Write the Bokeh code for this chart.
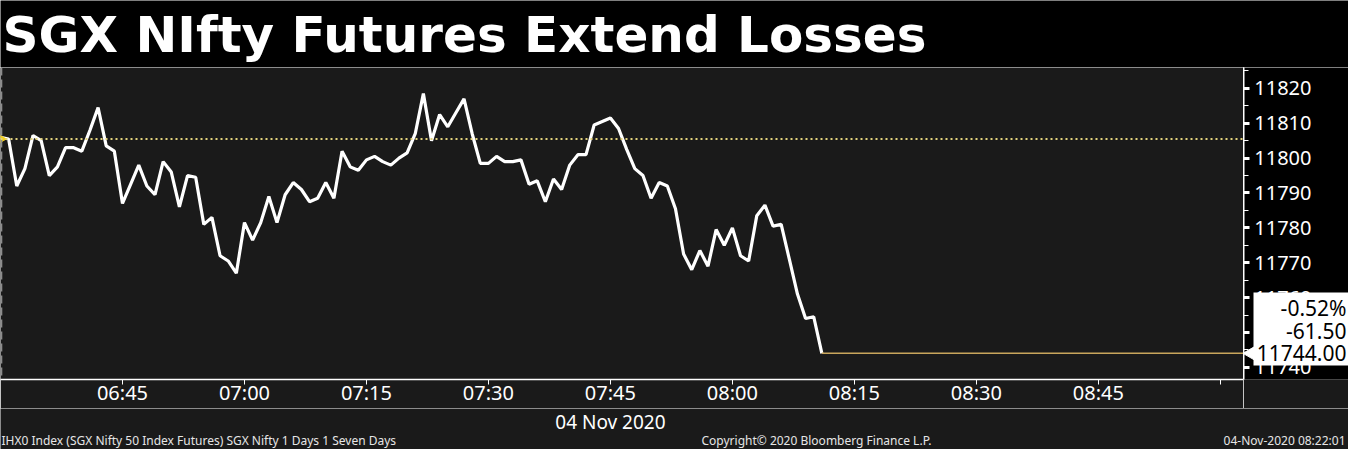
import math
import pandas as pd
from bokeh.plotting import figure
from bokeh.layouts import column, row
from bokeh.models import (Span, Label, BoxAnnotation, FixedTicker,
                          DatetimeTickFormatter, SingleIntervalTicker, Range1d)
from bokeh.embed import file_html
from bokeh.resources import INLINE

# ---------------- data ----------------
title_text = "SGX NIfty Futures Extend Losses"
session_date = "2020-11-04"
start_clock = "06:30"
end_clock = "09:02:51"
prices = [11806, 11805.5, 11792, 11797, 11806.5, 11805, 11795, 11797.5, 11803, 11803,
          11802, 11808, 11814.5, 11803.5, 11802, 11787, 11792.5, 11798, 11792, 11789.5,
          11799, 11796, 11786, 11795, 11794.5, 11781, 11783, 11772, 11770.5, 11767,
          11781.5, 11776.5, 11781.5, 11789, 11781.5, 11789.5, 11793, 11791, 11787.5, 11788.5,
          11793, 11788.5, 11802, 11797.5, 11796.5, 11799.5, 11800.5, 11799, 11798, 11800,
          11801.5, 11807, 11818.5, 11805, 11812.5, 11809, 11813, 11817, 11807, 11798.5,
          11798.5, 11800.5, 11799, 11799, 11799.5, 11792.5, 11793.5, 11787.5, 11794, 11791,
          11798, 11801, 11801, 11809.5, 11810.5, 11811.5, 11808.5, 11802.5, 11797, 11795,
          11788.5, 11793, 11792, 11785.5, 11772.5, 11768, 11773.5, 11769, 11779.5, 11775,
          11780, 11772, 11770.5, 11783.5, 11786.5, 11780.5, 11781, 11771, 11761, 11754,
          11754.5, 11744]
prev_close = 11805.5
x_tick_labels = ["06:45", "07:00", "07:15", "07:30", "07:45", "08:00", "08:15", "08:30", "08:45"]
x_unlabelled_ticks = ["09:00"]
date_label = "04 Nov 2020"
date_label_at = "07:45"
y_low, y_high = 11736.5, 11826
footer_left = "IHX0 Index (SGX Nifty 50 Index Futures) SGX Nifty 1 Days 1 Seven Days"
footer_mid = "Copyright\u00a9 2020 Bloomberg Finance L.P."
footer_right = "04-Nov-2020 08:22:01"

# ---------------- helpers ----------------
def ts(clock):
    return pd.Timestamp(f"{session_date} {clock}")

def ms(clock):
    return ts(clock).value // 10**6

times = pd.date_range(ts(start_clock), periods=len(prices), freq="1min")
last = prices[-1]
change = last - prev_close
pct = change / prev_close * 100

W, H = 1348, 449
TITLE_H = 67
FRAME_H = 314
XAXIS_H = 27
MAIN_H = FRAME_H + XAXIS_H
FOOT_H = H - TITLE_H - MAIN_H
RIGHT_W = 105
FRAME_W = W - RIGHT_W
FONT = "Noto Sans"
GREY = "#1a1a1a"

def bare(width, height, bg, **kw):
    f = figure(width=width, height=height, output_backend="svg", toolbar_location=None,
               x_axis_location=None, y_axis_location=None,
               min_border_left=0, min_border_right=0, min_border_top=0, min_border_bottom=0,
               background_fill_color=bg, border_fill_color=bg, outline_line_color=None, **kw)
    f.grid.visible = False
    return f

# ---------------- title band ----------------
fa = bare(W, TITLE_H, "black", x_range=Range1d(0, 1), y_range=Range1d(0, 1))
fa.add_layout(Label(x=2, y=TITLE_H - 34, x_units="screen", y_units="screen", text=title_text,
                    text_color="white", text_font="DejaVu Sans", text_font_style="bold",
                    text_font_size="50px", text_baseline="middle", text_align="left"))

# ---------------- main chart ----------------
x_range = Range1d(ts(start_clock), ts(end_clock))
y_range = Range1d(y_low, y_high)
p = figure(width=FRAME_W, height=MAIN_H, x_axis_type="datetime", y_axis_location=None,
           output_backend="svg", toolbar_location=None, x_range=x_range, y_range=y_range,
           min_border_left=0, min_border_right=0, min_border_top=0, min_border_bottom=XAXIS_H,
           background_fill_color=GREY, border_fill_color=GREY, outline_line_color=None)
p.grid.visible = False

xa = p.xaxis[0]
xa.ticker = FixedTicker(ticks=[ms(t) for t in x_tick_labels],
                        minor_ticks=[ms(t) for t in x_unlabelled_ticks])
xa.formatter = DatetimeTickFormatter(minutes="%H:%M", hourmin="%H:%M", hours="%H:%M",
                                     minsec="%H:%M", seconds="%H:%M", days="%H:%M")
xa.axis_line_color = "white"
xa.axis_line_width = 1.5
xa.major_tick_line_color = "white"
xa.major_tick_in = 0
xa.major_tick_out = 5
xa.minor_tick_line_color = "white"
xa.minor_tick_in = 0
xa.minor_tick_out = 5
xa.major_label_text_color = "white"
xa.major_label_text_font = FONT
xa.major_label_text_font_size = "20px"
xa.major_label_standoff = -6

p.add_layout(Span(location=ms(start_clock) + 6000, dimension="height",
                  line_color="#8c8c8c", line_dash="8 4", line_width=2))
p.add_layout(Span(location=prev_close, dimension="width",
                  line_color="#e3d27c", line_dash="2 3", line_width=2))

p.line(times, prices, line_color="white", line_width=3.2)
p.line([times[-1], ts(end_clock)], [last, last], line_color="#c9a65c", line_width=1.5)
p.scatter([times[0]], [prev_close], marker="triangle", angle=-math.pi / 2,
          size=10, color="#f2cf1d")

# ---------------- right value axis ----------------
d = figure(width=RIGHT_W, height=MAIN_H, output_backend="svg", toolbar_location=None,
           x_axis_location=None, y_axis_location="left",
           x_range=Range1d(0, RIGHT_W), y_range=y_range,
           min_border_left=0, min_border_right=0, min_border_top=0, min_border_bottom=XAXIS_H,
           background_fill_color="black", border_fill_color=GREY, outline_line_color=None)
d.grid.visible = False
ya = d.yaxis[0]
ya.ticker = SingleIntervalTicker(interval=10, num_minor_ticks=2)
ya.axis_line_color = "white"
ya.axis_line_width = 2
ya.major_tick_line_color = "white"
ya.major_tick_line_width = 3
ya.major_tick_in = 6
ya.major_tick_out = 0
ya.minor_tick_line_color = "white"
ya.minor_tick_in = 5
ya.minor_tick_out = 0
ya.major_label_text_color = "white"
ya.major_label_text_font = FONT
ya.major_label_text_font_size = "20px"
ya.major_label_standoff = -68

d.add_layout(BoxAnnotation(left=10, right=RIGHT_W, bottom=14, top=87,
                           bottom_units="screen", top_units="screen",
                           fill_color="white", fill_alpha=1, line_color=None, level="annotation"))
d.scatter([7], [last], marker="triangle", angle=math.pi / 2, size=13, color="white",
          level="annotation")
box_rows = [(f"{pct:.2f}%", 72, "screen"), (f"{change:.2f}", 49, "screen"), (f"{last:.2f}", last, "data")]
for t, yy, units in box_rows:
    d.add_layout(Label(x=RIGHT_W - 2, y=yy, y_units=units, text=t,
                       text_color="black", text_font=FONT, text_font_size="21px",
                       text_align="right", text_baseline="middle"))

# ---------------- footer ----------------
span_ms = ms(end_clock) - ms(start_clock)
fc = bare(W, FOOT_H, GREY,
          x_range=Range1d(ms(start_clock), ms(start_clock) + span_ms * W / FRAME_W),
          y_range=Range1d(0, 1))
fc.add_layout(Label(x=ms(date_label_at), y=FOOT_H - 13.5, y_units="screen", text=date_label,
                    text_color="white", text_font=FONT, text_font_size="19px",
                    text_align="center", text_baseline="middle"))
for t, xx, al in [(footer_left, 1, "left"), (footer_mid, 701, "left"), (footer_right, W - 3, "right")]:
    fc.add_layout(Label(x=xx, y=9, x_units="screen", y_units="screen", text=t,
                        text_color="#e6e6e6", text_font=FONT, text_font_size="12px",
                        text_align=al, text_baseline="middle"))

layout = column(fa, row(p, d), fc)
open("out.html", "w").write(file_html(layout, INLINE))
